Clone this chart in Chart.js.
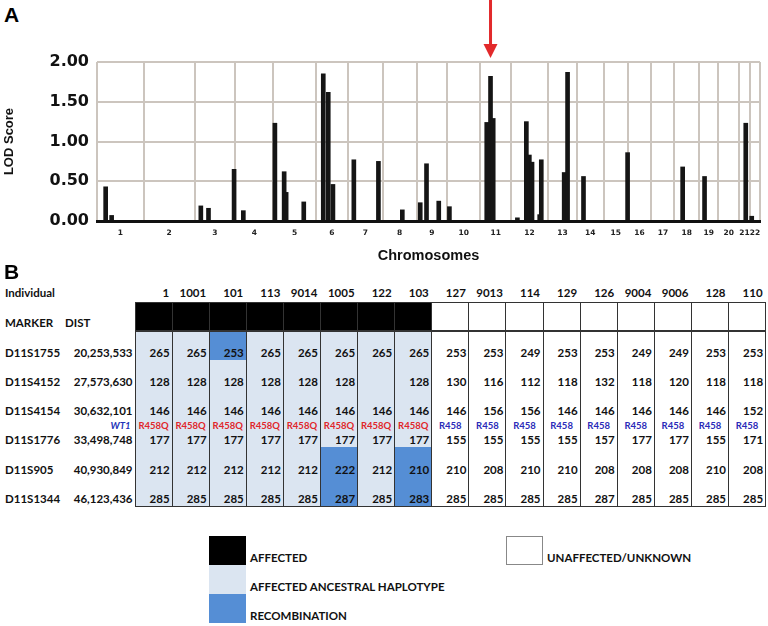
<!DOCTYPE html>
<html><head><meta charset="utf-8">
<script src="https://cdn.jsdelivr.net/npm/chart.js@4"></script>
<style>
html,body{margin:0;padding:0;background:#fff;}
body{width:768px;height:626px;position:relative;overflow:hidden;font-family:Lato,"Liberation Sans",sans-serif;color:#111;}
#chartWrap{position:absolute;left:0;top:0;width:768px;height:268px;}
.plab{position:absolute;font-family:"Liberation Sans",Arial,sans-serif;font-weight:bold;font-size:21px;line-height:21px;color:#000;}
#gt{position:absolute;left:0;top:284px;border-collapse:collapse;table-layout:fixed;width:766px;font-family:Lato,sans-serif;font-weight:bold;font-size:11.5px;color:#111;}
#gt td{padding:0 2px 0 0;line-height:14px;text-align:right;vertical-align:bottom;white-space:nowrap;overflow:visible;}
#gt td.lab{text-align:left;padding-left:5px;}
#gt td.hd{vertical-align:middle;padding-right:3px;}
#gt td.g{border-left:1.5px solid #333;border-right:1.5px solid #333;}
#gt td.top{border-top:1.5px solid #333;border-bottom:2px solid #333;}
#gt td.bot{border-bottom:1.5px solid #333;}
#gt td.aff{background:#000;}
#gt td.anc{background:#dbe5f1;}
#gt td.rec{background:#558ed5;}
#gt td.wht{background:#fff;}
#gt td.mut{text-align:center;font-size:9.5px;line-height:12px;padding:0 0 1px 0;}
.lbox{position:absolute;width:37px;height:29px;}
.ltxt{position:absolute;font-family:Lato,sans-serif;font-weight:bold;font-size:11.5px;line-height:14px;color:#111;white-space:nowrap;}
</style>
</head><body>
<div class="plab" style="left:4px;top:4px">A</div>
<div id="chartWrap"><canvas id="c" width="768" height="268"></canvas></div>
<div class="plab" style="left:4px;top:261px">B</div>
<table id="gt"></table>
<div id="legend"></div>
<script>
// ---------- Panel A data ----------
const chromosomes = ['1','2','3','4','5','6','7','8','9','10','11','12','13','14','15','16','17','18','19','20','21','22'];
const chromBounds = [0,47,98,139,177,220,252,287,321,352,385,416,453,482,509,533,557,580,605,624,645,656,666];
const markerPos = [8.7,14.7,104.3,112,137.7,147,178.7,188,190,207.7,227.3,232.3,237,258,282.7,306.7,324.7,331,343.3,354,391.5,395.3,398,422.3,431.3,434.3,437,444.7,446.3,469.3,472.7,488.7,533,588.3,610.3,651.7,657.7];
const lodScores = [0.43,0.07,0.19,0.16,0.65,0.13,1.23,0.62,0.36,0.24,1.85,1.62,0.46,0.77,0.75,0.14,0.23,0.72,0.25,0.18,1.24,1.82,1.29,0.04,1.25,0.83,0.74,0.08,0.77,0.61,1.87,0.56,0.86,0.68,0.56,1.23,0.06];
const yTickValues = [0, 0.5, 1, 1.5, 2];
const arrowPos = 395.3;

// ---------- Panel B data ----------
const individuals = ['1','1001','101','113','9014','1005','122','103','127','9013','114','129','126','9004','9006','128','110'];
const affectedFlags = [1,1,1,1,1,1,1,1,0,0,0,0,0,0,0,0,0];
const markers = ['D11S1755','D11S4152','D11S4154','D11S1776','D11S905','D11S1344'];
const markerDist = ['20,253,533','27,573,630','30,632,101','33,498,748','40,930,849','46,123,436'];
const allelesD11S1755 = ['265','265','253','265','265','265','265','265','253','253','249','253','253','249','249','253','253'];
const allelesD11S4152 = ['128','128','128','128','128','128','','128','130','116','112','118','132','118','120','118','118'];
const allelesD11S4154 = ['146','146','146','146','146','146','146','146','146','156','156','146','146','146','146','146','152'];
const allelesD11S1776 = ['177','177','177','177','177','177','177','177','155','155','155','155','157','177','177','155','171'];
const allelesD11S905  = ['212','212','212','212','212','222','212','210','210','208','210','210','208','208','208','210','208'];
const allelesD11S1344 = ['285','285','285','285','285','287','285','283','285','285','285','285','287','285','285','285','285'];
const wt1Label = 'WT1';
const wt1Variant = ['R458Q','R458Q','R458Q','R458Q','R458Q','R458Q','R458Q','R458Q','R458','R458','R458','R458','R458','R458','R458','R458','R458'];
const recombCells = [[0,2],[4,5],[5,5],[4,7],[5,7]];
const legendLabels = ['AFFECTED','AFFECTED ANCESTRAL HAPLOTYPE','RECOMBINATION','UNAFFECTED/UNKNOWN'];

// ---------- Panel A chart ----------
const bounds = new Set(chromBounds);
const xTicks = [];
chromBounds.forEach((b, i) => {
  xTicks.push({value: b, label: ''});
  if (i < chromosomes.length) xTicks.push({value: (b + chromBounds[i+1]) / 2, label: chromosomes[i]});
});
const gridGray = '#ccc5be';

const arrowPlugin = {
  id: 'arrow',
  afterDraw(chart) {
    const ctx = chart.ctx, x = chart.scales.x;
    const px = x.getPixelForValue(arrowPos);
    ctx.save();
    ctx.fillStyle = '#e2292b';
    ctx.fillRect(px - 1.5, 0, 3, 46);
    ctx.beginPath();
    ctx.moveTo(px - 7, 44);
    ctx.lineTo(px + 7, 44);
    ctx.lineTo(px, 58);
    ctx.closePath();
    ctx.fill();
    ctx.restore();
  }
};

new Chart(document.getElementById('c'), {
  type: 'bar',
  data: {
    datasets: [{
      data: markerPos.map((p, i) => ({x: p, y: lodScores[i]})),
      backgroundColor: '#151515',
      borderWidth: 0,
      barThickness: 4
    }]
  },
  options: {
    responsive: false,
    animation: false,
    devicePixelRatio: 1,
    layout: {padding: {top: 62, right: 5, left: 0, bottom: 0}},
    plugins: {legend: {display: false}, tooltip: {enabled: false}},
    scales: {
      x: {
        type: 'linear', min: 0, max: chromBounds[chromBounds.length-1], offset: false,
        afterBuildTicks: s => { s.ticks = xTicks.map(t => ({value: t.value})); },
        grid: {offset: false, drawTicks: false, lineWidth: 2,
          color: c => (c.tick && bounds.has(c.tick.value)) ? gridGray : 'rgba(0,0,0,0)'},
        border: {display: true, color: '#111', width: 3},
        ticks: {autoSkip: false, maxRotation: 0, minRotation: 0, padding: 8,
          font: {family: 'DejaVu Sans', weight: 'bold', size: 7.5}, color: '#222',
          callback: (v, i) => xTicks[i] ? xTicks[i].label : ''},
        title: {display: true, text: 'Chromosomes', color: '#111',
          font: {family: 'Liberation Sans', weight: 'bold', size: 14.5}, padding: {top: 0, bottom: 3}},
        afterFit: s => { s.height = 47; }
      },
      y: {
        min: 0, max: 2,
        afterBuildTicks: s => { s.ticks = yTickValues.map(v => ({value: v})); },
        grid: {drawTicks: false, lineWidth: 2,
          color: c => (c.tick && c.tick.value === 0) ? 'rgba(0,0,0,0)' : gridGray},
        border: {display: false},
        ticks: {padding: 8, color: '#111', callback: v => Number(v).toFixed(2),
          font: {family: 'DejaVu Sans', weight: 'bold', size: 16}},
        title: {display: true, text: 'LOD Score', color: '#111',
          font: {family: 'Liberation Sans', weight: 'bold', size: 13}, padding: {top: 2, bottom: 0}},
        afterFit: s => { s.width = 97; }
      }
    }
  },
  plugins: [arrowPlugin]
});

// ---------- Panel B table ----------
const alleleRows = [allelesD11S1755, allelesD11S4152, allelesD11S4154, allelesD11S1776, allelesD11S905, allelesD11S1344];
const rowHeights = [29, 29, 29, 14, 30, 29];
const isRecomb = (r, c) => recombCells.some(rc => rc[0] === r && rc[1] === c);
const cellBg = (r, c) => isRecomb(r, c) ? 'rec' : (affectedFlags[c] ? 'anc' : 'wht');

let html = '<colgroup><col style="width:60px"><col style="width:75px">' +
  individuals.map(() => '<col style="width:37.1px">').join('') + '</colgroup>';
html += '<tr style="height:18px"><td class="lab hd" colspan="2">Individual</td>' +
  individuals.map(i => `<td class="hd">${i}</td>`).join('') + '</tr>';
html += '<tr style="height:29px"><td class="lab" style="padding-bottom:1px">MARKER</td><td class="lab" style="padding-bottom:1px">DIST</td>' +
  affectedFlags.map(a => `<td class="g top ${a ? 'aff' : 'wht'}"></td>`).join('') + '</tr>';
markers.forEach((m, r) => {
  const last = r === markers.length - 1;
  html += `<tr style="height:${rowHeights[r]}px"><td class="lab">${m}</td><td>${markerDist[r]}</td>` +
    alleleRows[r].map((a, c) => `<td class="g ${cellBg(r, c)}${last ? ' bot' : ''}">${a}</td>`).join('') + '</tr>';
  if (r === 2) {
    html += `<tr style="height:15px"><td></td><td style="font-style:italic;font-size:9.5px;line-height:12px;color:#2233b8;padding:0 4px 1px 0">${wt1Label}</td>` +
      wt1Variant.map((v, c) => `<td class="g mut ${affectedFlags[c] ? 'anc' : 'wht'}" style="color:${affectedFlags[c] ? '#e0262a' : '#2a2ab8'}">${v}</td>`).join('') + '</tr>';
  }
});
document.getElementById('gt').innerHTML = html;

// ---------- Legend ----------
const legendItems = [
  {box: [209, 536], bg: '#000', border: 'none', text: [250, 551], label: legendLabels[0]},
  {box: [209, 565], bg: '#dbe5f1', border: 'none', text: [250, 580], label: legendLabels[1]},
  {box: [209, 594], bg: '#558ed5', border: 'none', text: [250, 609], label: legendLabels[2]},
  {box: [506, 536], bg: '#fff', border: '1px solid #888', text: [547, 551], label: legendLabels[3]}
];
document.getElementById('legend').innerHTML = legendItems.map(it =>
  `<div class="lbox" style="left:${it.box[0]}px;top:${it.box[1]}px;background:${it.bg};border:${it.border};box-sizing:border-box"></div>` +
  `<div class="ltxt" style="left:${it.text[0]}px;top:${it.text[1]}px">${it.label}</div>`).join('');
</script>
</body></html>
